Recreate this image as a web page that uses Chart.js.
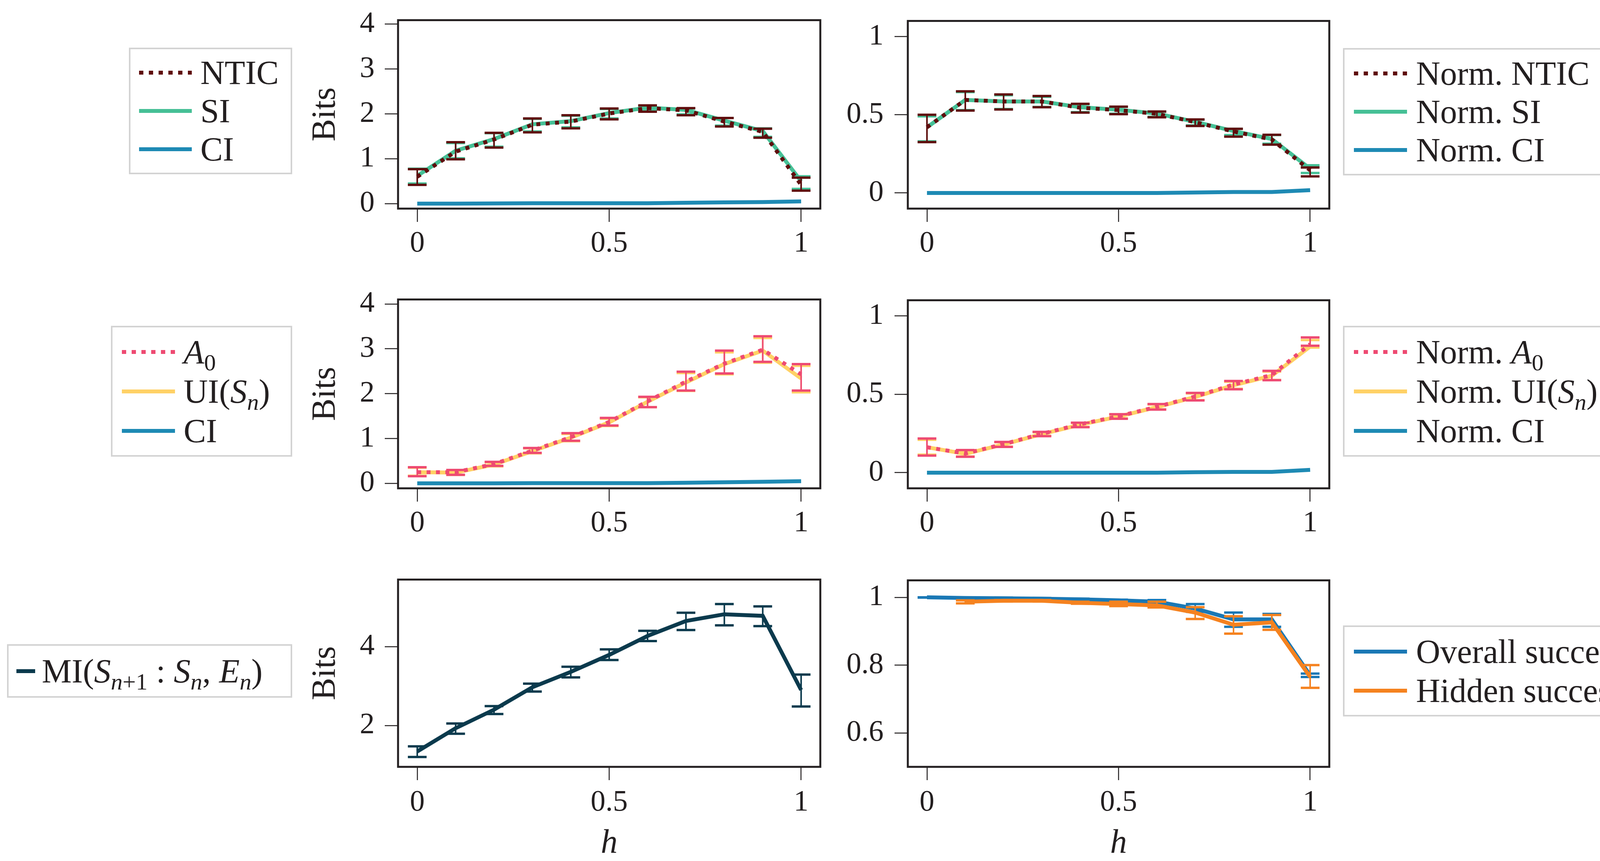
<!DOCTYPE html>
<html>
<head>
<meta charset="utf-8">
<script src="https://cdn.jsdelivr.net/npm/chart.js@4.4.1/dist/chart.umd.min.js"></script>
<style>
  html, body { margin: 0; padding: 0; background: #fff; width: 4223px; height: 2204px; overflow: hidden; position: relative; }
  canvas { position: absolute; }
  .legend { position: absolute; box-sizing: border-box; border: 4px solid #d3d3d3; background: #fff;
            display: flex; flex-direction: column; justify-content: center;
            font-family: 'Liberation Serif', serif; font-size: 86px; color: #231f20; }
  .row { display: flex; align-items: center; white-space: nowrap; line-height: 1; }
  .swatch { flex: none; height: 10px; }
  sub { font-size: 70%; vertical-align: -0.3em; line-height: 0; }
</style>
</head>
<body>
<script>
// x positions (h) shared by every panel
const h = [0, 0.1, 0.2, 0.3, 0.4, 0.5, 0.6, 0.7, 0.8, 0.9, 1];
const xTicks = [0, 0.5, 1];

// top left: bits
const ntic   = [0.60, 1.16, 1.43, 1.76, 1.83, 2.01, 2.13, 2.08, 1.83, 1.60, 0.42];
const nticLo = [0.42, 0.99, 1.25, 1.59, 1.68, 1.88, 2.05, 1.97, 1.72, 1.47, 0.29];
const nticHi = [0.77, 1.37, 1.58, 1.90, 1.97, 2.12, 2.19, 2.13, 1.91, 1.67, 0.58];
const si     = [0.62, 1.18, 1.44, 1.77, 1.84, 2.02, 2.14, 2.09, 1.85, 1.62, 0.50];
const siLo   = [0.45, 1.01, 1.27, 1.61, 1.70, 1.90, 2.07, 1.99, 1.74, 1.49, 0.33];
const siHi   = [0.78, 1.35, 1.57, 1.89, 1.96, 2.11, 2.18, 2.12, 1.91, 1.68, 0.61];
const ci     = [0, 0, 0.005, 0.01, 0.01, 0.01, 0.01, 0.02, 0.03, 0.035, 0.05];

// top right: normalised
const nNtic   = [0.42, 0.595, 0.585, 0.585, 0.545, 0.53, 0.506, 0.453, 0.393, 0.342, 0.145];
const nNticLo = [0.325, 0.527, 0.534, 0.548, 0.514, 0.504, 0.484, 0.428, 0.36, 0.309, 0.106];
const nNticHi = [0.50, 0.65, 0.63, 0.62, 0.57, 0.552, 0.521, 0.47, 0.41, 0.372, 0.163];
const nSi     = [0.42, 0.595, 0.585, 0.585, 0.548, 0.532, 0.508, 0.455, 0.396, 0.345, 0.155];
const nSiLo   = [0.33, 0.53, 0.537, 0.55, 0.517, 0.507, 0.487, 0.432, 0.37, 0.315, 0.128];
const nSiHi   = [0.49, 0.645, 0.625, 0.615, 0.567, 0.55, 0.52, 0.468, 0.41, 0.37, 0.177];
const nCi     = [0, 0, 0, 0, 0, 0, 0, 0.003, 0.006, 0.006, 0.018];

// middle left: bits
const a0   = [0.25, 0.25, 0.43, 0.73, 1.03, 1.37, 1.83, 2.27, 2.67, 2.98, 2.43];
const a0Lo = [0.16, 0.19, 0.39, 0.68, 0.95, 1.29, 1.70, 2.07, 2.45, 2.71, 2.07];
const a0Hi = [0.36, 0.30, 0.48, 0.79, 1.12, 1.46, 1.93, 2.49, 2.96, 3.28, 2.66];
const ui   = [0.25, 0.24, 0.42, 0.72, 1.02, 1.36, 1.82, 2.25, 2.66, 2.96, 2.34];
const uiLo = [0.17, 0.19, 0.38, 0.67, 0.94, 1.28, 1.70, 2.06, 2.43, 2.69, 2.03];
const uiHi = [0.35, 0.30, 0.47, 0.78, 1.10, 1.44, 1.92, 2.46, 2.92, 3.24, 2.62];
const ci2  = [0, 0, 0, 0.005, 0.005, 0.005, 0.005, 0.015, 0.025, 0.035, 0.05];

// middle right: normalised
const nA0   = [0.162, 0.122, 0.182, 0.248, 0.309, 0.36, 0.42, 0.486, 0.562, 0.623, 0.82];
const nA0Lo = [0.109, 0.101, 0.164, 0.233, 0.29, 0.344, 0.402, 0.461, 0.532, 0.59, 0.81];
const nA0Hi = [0.218, 0.144, 0.196, 0.26, 0.319, 0.373, 0.438, 0.509, 0.585, 0.65, 0.863];
const nUi   = [0.162, 0.12, 0.18, 0.246, 0.306, 0.358, 0.418, 0.483, 0.558, 0.618, 0.805];
const nUiLo = [0.115, 0.103, 0.166, 0.235, 0.292, 0.346, 0.404, 0.463, 0.535, 0.592, 0.798];
const nUiHi = [0.21, 0.142, 0.194, 0.258, 0.317, 0.37, 0.435, 0.505, 0.58, 0.645, 0.846];
const nCi2  = [0, 0, 0, 0, 0, 0, 0, 0.003, 0.005, 0.005, 0.018];

// bottom left: MI
const mi   = [1.34, 1.93, 2.40, 2.97, 3.36, 3.79, 4.27, 4.65, 4.82, 4.78, 2.90];
const miLo = [1.20, 1.79, 2.29, 2.86, 3.22, 3.66, 4.14, 4.42, 4.54, 4.52, 2.48];
const miHi = [1.47, 2.05, 2.49, 3.06, 3.49, 3.93, 4.40, 4.86, 5.08, 5.02, 3.29];

// bottom right: success rates
const overall   = [1.0, 0.998, 0.997, 0.996, 0.994, 0.991, 0.987, 0.967, 0.935, 0.935, 0.77];
const overallLo = [0.999, 0.996, 0.995, 0.994, 0.992, 0.989, 0.983, 0.957, 0.913, 0.913, 0.765];
const overallHi = [1.0, 1.0, 0.999, 0.998, 0.996, 0.993, 0.992, 0.98, 0.955, 0.951, 0.775];
const hidden    = [null, 0.987, 0.99, 0.99, 0.984, 0.98, 0.976, 0.955, 0.919, 0.926, 0.765];
const hiddenLo  = [null, 0.982, 0.988, 0.988, 0.981, 0.974, 0.97, 0.936, 0.893, 0.904, 0.733];
const hiddenHi  = [null, 0.991, 0.992, 0.992, 0.987, 0.987, 0.987, 0.971, 0.944, 0.948, 0.80];

const bitsTicks = [0, 1, 2, 3, 4];
const normTicks = [0, 0.5, 1];
const miTicks = [2, 4];
const successTicks = [0.6, 0.8, 1];

const legendTL = ['NTIC', 'SI', 'CI'];
const legendTR = ['Norm. NTIC', 'Norm. SI', 'Norm. CI'];
const legendML = ['<i>A</i><sub>0</sub>', 'UI(<i>S<sub>n</sub></i>)', 'CI'];
const legendMR = ['Norm. <i>A</i><sub>0</sub>', 'Norm. UI(<i>S<sub>n</sub></i>)', 'Norm. CI'];
const legendBL = ['MI(<i>S</i><sub><i>n</i>+1</sub> : <i>S<sub>n</sub></i>, <i>E<sub>n</sub></i>)'];
const legendBR = ['Overall success', 'Hidden success'];

const INK = '#231f20';
const SERIF = "'Liberation Serif', serif";
const C = {
  ntic: '#5f0d0d', si: '#46c096', ci: '#1e8ab4',
  a0: '#ee4a72', ui: '#ffd166', mi: '#0b3a4d',
  overall: '#1a78b5', hidden: '#f5821f'
};

const series = (ys) => h.map((x, i) => ({ x: x, y: ys[i] }));

const lineSet = (label, ys, color, lo, hi, dotted) => ({
  label: label,
  data: series(ys),
  errLo: lo,
  errHi: hi,
  borderColor: color,
  borderWidth: 10,
  borderDash: dotted ? [10, 14] : [],
  borderCapStyle: 'butt',
  pointRadius: 0,
  tension: 0,
  fill: false,
  spanGaps: false
});

// vertical error bars with caps, drawn right after each line
const errorBars = {
  id: 'errorBars',
  afterDatasetDraw(chart, args) {
    const ds = chart.data.datasets[args.index];
    if (!ds.errLo) return;
    const xs = chart.scales.x, ys = chart.scales.y, ctx = chart.ctx;
    ctx.save();
    ctx.strokeStyle = ds.borderColor;
    ctx.setLineDash([]);
    ds.data.forEach((pt, i) => {
      if (pt.y == null || ds.errLo[i] == null) return;
      const px = xs.getPixelForValue(pt.x);
      const lo = ys.getPixelForValue(ds.errLo[i]);
      const hi = ys.getPixelForValue(ds.errHi[i]);
      ctx.lineWidth = 4;
      ctx.beginPath();
      ctx.moveTo(px, lo);
      ctx.lineTo(px, hi);
      ctx.stroke();
      ctx.lineWidth = 6;
      ctx.beginPath();
      ctx.moveTo(px - 24, lo); ctx.lineTo(px + 24, lo);
      ctx.moveTo(px - 24, hi); ctx.lineTo(px + 24, hi);
      ctx.stroke();
    });
    ctx.restore();
  }
};

const frame = {
  id: 'frame',
  afterDraw(chart) {
    const a = chart.chartArea, ctx = chart.ctx;
    ctx.save();
    ctx.strokeStyle = INK;
    ctx.lineWidth = 5;
    ctx.strokeRect(a.left, a.top, a.right - a.left, a.bottom - a.top);
    ctx.restore();
  }
};

const PAD_T = 60, PAD_R = 60;

const panels = [
  { box: [1019, 40, 2100, 534], yw: 260, yPad: 26, xh: 130, xPad: 10, yMin: -0.11, yMax: 4.09, yTicks: bitsTicks, bits: true, hTitle: false,
    sets: [lineSet('NTIC', ntic, C.ntic, nticLo, nticHi, true), lineSet('SI', si, C.si, siLo, siHi), lineSet('CI', ci, C.ci)] },
  { box: [2324, 40, 3403, 534], yw: 200, yPad: 28, xh: 130, xPad: 10, yMin: -0.1, yMax: 1.1, yTicks: normTicks, bits: false, hTitle: false,
    sets: [lineSet('Norm. NTIC', nNtic, C.ntic, nNticLo, nNticHi, true), lineSet('Norm. SI', nSi, C.si, nSiLo, nSiHi), lineSet('Norm. CI', nCi, C.ci)] },
  { box: [1019, 755, 2100, 1250], yw: 260, yPad: 26, xh: 130, xPad: 10, yMin: -0.11, yMax: 4.1, yTicks: bitsTicks, bits: true, hTitle: false,
    sets: [lineSet('A0', a0, C.a0, a0Lo, a0Hi, true), lineSet('UI(Sn)', ui, C.ui, uiLo, uiHi), lineSet('CI', ci2, C.ci)] },
  { box: [2324, 755, 3403, 1250], yw: 200, yPad: 28, xh: 130, xPad: 10, yMin: -0.1, yMax: 1.1, yTicks: normTicks, bits: false, hTitle: false,
    sets: [lineSet('Norm. A0', nA0, C.a0, nA0Lo, nA0Hi, true), lineSet('Norm. UI(Sn)', nUi, C.ui, nUiLo, nUiHi), lineSet('Norm. CI', nCi2, C.ci)] },
  { box: [1019, 1472, 2100, 1963], yw: 260, yPad: 26, xh: 240, xPad: 12, yMin: 0.95, yMax: 5.7, yTicks: miTicks, bits: true, hTitle: true,
    sets: [lineSet('MI(Sn+1 : Sn, En)', mi, C.mi, miLo, miHi)] },
  { box: [2324, 1472, 3403, 1963], yw: 200, yPad: 28, xh: 240, xPad: 12, yMin: 0.5, yMax: 1.05, yTicks: successTicks, bits: false, hTitle: true,
    sets: [Object.assign(lineSet('Hidden success', hidden, C.hidden, hiddenLo, hiddenHi), { order: 0 }),
           Object.assign(lineSet('Overall success', overall, C.overall, overallLo, overallHi), { order: 1 })] }
];

const legends = [
  { labels: legendTL, colors: [C.ntic, C.si, C.ci], dotted: [true, false, false], rect: [330, 122, 418, 324], row: 98, sw: 135, ml: 22, gap: 22 },
  { labels: legendTR, colors: [C.ntic, C.si, C.ci], dotted: [true, false, false], rect: [3438, 123, 673, 326], row: 98, sw: 136, ml: 24, gap: 23 },
  { labels: legendML, colors: [C.a0, C.ui, C.ci], dotted: [true, false, false], rect: [284, 834, 464, 335], row: 101, sw: 136, ml: 24, gap: 22 },
  { labels: legendMR, colors: [C.a0, C.ui, C.ci], dotted: [true, false, false], rect: [3438, 834, 716, 335], row: 101, sw: 136, ml: 24, gap: 23 },
  { labels: legendBL, colors: [C.mi], dotted: [false], rect: [18, 1649, 730, 137], row: 100, sw: 48, ml: 20, gap: 17 },
  { labels: legendBR, colors: [C.overall, C.hidden], dotted: [false, false], rect: [3438, 1601, 768, 233], row: 100, sw: 136, ml: 24, gap: 23 }
];

const axisCommon = (extra) => Object.assign({
  grid: { drawOnChartArea: false, drawTicks: true, tickLength: 34, tickWidth: 2.5, tickColor: INK },
  border: { display: false }
}, extra);

panels.forEach((p) => {
  const canvas = document.createElement('canvas');
  const w = p.box[2] - p.box[0] + p.yw + PAD_R;
  const ht = p.box[3] - p.box[1] + PAD_T + p.xh;
  canvas.width = w;
  canvas.height = ht;
  canvas.style.left = (p.box[0] - p.yw) + 'px';
  canvas.style.top = (p.box[1] - PAD_T) + 'px';
  canvas.style.width = w + 'px';
  canvas.style.height = ht + 'px';
  document.body.appendChild(canvas);

  new Chart(canvas, {
    type: 'line',
    data: { datasets: p.sets },
    options: {
      responsive: false,
      animation: false,
      devicePixelRatio: 1,
      layout: { padding: { top: PAD_T, right: PAD_R, left: 0, bottom: 0 } },
      plugins: { legend: { display: false }, tooltip: { enabled: false } },
      scales: {
        x: axisCommon({
          type: 'linear',
          min: -0.05,
          max: 1.05,
          afterBuildTicks: (s) => { s.ticks = xTicks.map((v) => ({ value: v })); },
          afterFit: (s) => { s.height = p.xh; },
          ticks: { padding: p.xPad, color: INK, maxRotation: 0, autoSkip: false,
                   font: { family: SERIF, size: 76 }, callback: (v) => String(v) },
          title: { display: p.hTitle, text: 'h', color: INK,
                   font: { family: SERIF, size: 86, style: 'italic', lineHeight: 1 }, padding: { top: 0, bottom: 0 } }
        }),
        y: axisCommon({
          type: 'linear',
          min: p.yMin,
          max: p.yMax,
          afterBuildTicks: (s) => { s.ticks = p.yTicks.map((v) => ({ value: v })); },
          afterFit: (s) => { s.width = p.yw; },
          ticks: { padding: p.yPad, color: INK, font: { family: SERIF, size: 76 }, callback: (v) => String(v) },
          title: { display: p.bits, text: 'Bits', color: INK,
                   font: { family: SERIF, size: 86, lineHeight: 1 }, padding: { top: 32, bottom: 0 } }
        })
      }
    },
    plugins: [errorBars, frame]
  });
});

legends.forEach((lg) => {
  const box = document.createElement('div');
  box.className = 'legend';
  box.style.left = lg.rect[0] + 'px';
  box.style.top = lg.rect[1] + 'px';
  box.style.width = lg.rect[2] + 'px';
  box.style.height = lg.rect[3] + 'px';
  lg.labels.forEach((text, i) => {
    const row = document.createElement('div');
    row.className = 'row';
    row.style.height = lg.row + 'px';
    const sw = document.createElement('div');
    sw.className = 'swatch';
    sw.style.width = lg.sw + 'px';
    sw.style.marginLeft = lg.ml + 'px';
    sw.style.marginRight = lg.gap + 'px';
    sw.style.background = lg.dotted[i]
      ? `repeating-linear-gradient(to right, ${lg.colors[i]} 0 11px, transparent 11px 25px)`
      : lg.colors[i];
    const label = document.createElement('span');
    label.innerHTML = text;
    row.appendChild(sw);
    row.appendChild(label);
    box.appendChild(row);
  });
  document.body.appendChild(box);
});
</script>
</body>
</html>
